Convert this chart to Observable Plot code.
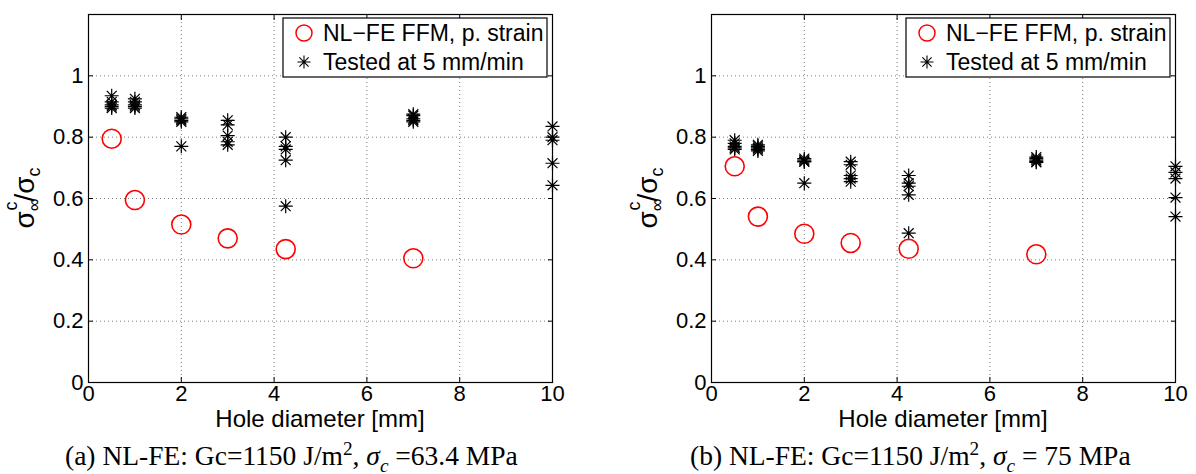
<!DOCTYPE html>
<html><head><meta charset="utf-8">
<script src="https://cdn.jsdelivr.net/npm/d3@7"></script>
<script src="https://cdn.jsdelivr.net/npm/@observablehq/plot@0.6"></script>
<style>
body{margin:0;background:#fff;}
#wrap{position:relative;width:1196px;height:474px;overflow:hidden;background:#fff;}
.panel{position:absolute;top:0;width:598px;height:474px;}
.panel svg{position:absolute;left:0;top:0;overflow:visible;}
.cap{position:absolute;top:438px;font-family:"Liberation Serif","Times New Roman",serif;font-size:27.5px;line-height:36px;white-space:nowrap;color:#000;}
.cap sup,.cap sub{font-size:0.7em;line-height:0;}
</style></head><body>
<div id="wrap"></div>
<script>
// ---- data ----
const holeDiameters = [0.5, 1, 2, 3, 4.25, 7];
const ffmA = [0.795, 0.595, 0.515, 0.47, 0.435, 0.405];
const ffmB = [0.705, 0.541, 0.485, 0.455, 0.436, 0.418];
const testDiameters = [0.5, 1, 2, 3, 4.25, 7, 10];
const testedA = [
  [0.935, 0.915, 0.905, 0.9, 0.895],
  [0.925, 0.915, 0.905, 0.9, 0.895],
  [0.865, 0.86, 0.855, 0.85, 0.77],
  [0.855, 0.84, 0.805, 0.785, 0.775],
  [0.8, 0.77, 0.76, 0.725, 0.575],
  [0.875, 0.87, 0.86, 0.855, 0.85],
  [0.835, 0.8, 0.79, 0.715, 0.643]
];
const testedB = [
  [0.79, 0.78, 0.77, 0.765, 0.76],
  [0.775, 0.77, 0.765, 0.76, 0.755],
  [0.73, 0.725, 0.72, 0.72, 0.65],
  [0.72, 0.71, 0.675, 0.665, 0.655],
  [0.675, 0.65, 0.64, 0.612, 0.487],
  [0.735, 0.73, 0.725, 0.72, 0.718],
  [0.705, 0.685, 0.665, 0.603, 0.541]
];
const xTicks = [0, 2, 4, 6, 8, 10];
const yTicks = [0, 0.2, 0.4, 0.6, 0.8, 1];
const legendLabels = ["NL\u2212FE FFM, p. strain", "Tested at 5 mm/min"];
const xLabel = "Hole diameter [mm]";
const captions = [
  '(a) NL-FE: Gc=1150 J/m<sup>2</sup>, <i>σ<sub>c</sub></i> =63.4 MPa',
  '(b) NL-FE: Gc=1150 J/m<sup>2</sup>, <i>σ<sub>c</sub></i> = 75 MPa'
];

const asterisk = {
  draw(ctx, size) {
    const r = Math.sqrt(size / Math.PI), d = r * Math.SQRT1_2;
    ctx.moveTo(0, -r); ctx.lineTo(0, r);
    ctx.moveTo(-r, 0); ctx.lineTo(r, 0);
    ctx.moveTo(-d, -d); ctx.lineTo(d, d);
    ctx.moveTo(-d, d); ctx.lineTo(d, -d);
  }
};

const FONT = "'Liberation Sans', Arial, sans-serif";
const W = 598, H = 430, MT = 14, MB = 48;
const grid = {stroke: "#7a7a7a", strokeOpacity: 1, strokeDasharray: "1,3", strokeWidth: 1};

function makePanel(ffm, tested, ml, mr, left, labelX, capLeft, caption) {
  const ffmData = holeDiameters.map((d, i) => ({d, v: ffm[i]}));
  const testData = testDiameters.flatMap((d, i) => tested[i].map(v => ({d, v})));
  const svg = Plot.plot({
    width: W, height: H,
    marginLeft: ml, marginRight: mr, marginTop: MT, marginBottom: MB,
    x: {domain: [0, 10]},
    y: {domain: [0, 1.2]},
    style: {fontFamily: FONT, fontSize: "22px", color: "#000", background: "#fff", overflow: "visible"},
    marks: [
      Plot.gridX(xTicks.slice(1, -1), grid),
      Plot.gridY(yTicks.slice(1), grid),
      Plot.axisX(xTicks, {anchor: "bottom", tickSize: -5, tickPadding: 8, tickFormat: d => String(d), label: null, fontSize: 22}),
      Plot.axisX(xTicks, {anchor: "top", tickSize: -5, tickFormat: () => "", label: null}),
      Plot.axisY(yTicks, {anchor: "left", tickSize: -5, tickPadding: 10, tickFormat: d => String(d), label: null, fontSize: 22}),
      Plot.axisY(yTicks, {anchor: "right", tickSize: -5, tickFormat: () => "", label: null}),
      Plot.frame({stroke: "#000", strokeWidth: 1.2}),
      Plot.dot(testData, {x: "d", y: "v", symbol: asterisk, r: 7, stroke: "#000", fill: "none", strokeWidth: 1.2}),
      Plot.dot(ffmData, {x: "d", y: "v", r: 9.5, stroke: "#ff0000", strokeWidth: 1.6, fill: "none"})
    ]
  });
  const s = d3.select(svg);
  // x label
  s.append("text")
    .attr("x", ml + (W - ml - mr) / 2).attr("y", H - MB + 45)
    .attr("text-anchor", "middle").attr("font-family", FONT).attr("font-size", 24)
    .attr("fill", "#000").text(xLabel);
  // y label
  const t = s.append("text")
    .attr("transform", `translate(${labelX},${(MT + H - MB) / 2}) rotate(-90)`)
    .attr("text-anchor", "middle")
    .attr("font-family", FONT)
    .attr("font-size", 28).attr("fill", "#000");
  t.append("tspan").text("σ");
  t.append("tspan").attr("font-size", 18).attr("dy", 6).text("∞");
  t.append("tspan").attr("font-size", 18).attr("dx", -12).attr("dy", -23).text("c");
  t.append("tspan").attr("dy", 17).text("/σ");
  t.append("tspan").attr("font-size", 18).attr("dy", 6).text("c");
  // legend
  const bx1 = W - mr - 5, bw = 264, bx0 = bx1 - bw, by0 = MT + 4, bh = 59;
  const g = s.append("g").attr("text-anchor", "start");
  g.append("rect").attr("x", bx0).attr("y", by0).attr("width", bw).attr("height", bh)
    .attr("fill", "#fff").attr("stroke", "#000").attr("stroke-width", 1.2);
  const rows = [by0 + 15, by0 + 44];
  g.append("circle").attr("cx", bx0 + 21).attr("cy", rows[0]).attr("r", 8)
    .attr("fill", "none").attr("stroke", "#ff0000").attr("stroke-width", 1.5);
  g.append("path").attr("transform", `translate(${bx0 + 21},${rows[1]})`)
    .attr("d", d3.symbol().type(asterisk).size(Math.PI * 6.5 * 6.5)())
    .attr("fill", "none").attr("stroke", "#000").attr("stroke-width", 1.1);
  legendLabels.forEach((L, i) => {
    g.append("text").attr("x", bx0 + 40).attr("y", rows[i]).attr("dy", "0.36em")
      .attr("text-anchor", "start")
      .attr("font-family", FONT).attr("font-size", 23)
      .attr("fill", "#000").text(L);
  });
  const div = document.createElement("div");
  div.className = "panel";
  div.style.left = left + "px";
  div.appendChild(svg);
  const cap = document.createElement("div");
  cap.className = "cap";
  cap.style.left = capLeft + "px";
  cap.innerHTML = caption;
  div.appendChild(cap);
  document.getElementById("wrap").appendChild(div);
}

makePanel(ffmA, testedA, 88, 46, 0, 34, 65, captions[0]);
makePanel(ffmB, testedB, 113, 21, 598, 59, 92, captions[1]);
</script>
</body></html>
